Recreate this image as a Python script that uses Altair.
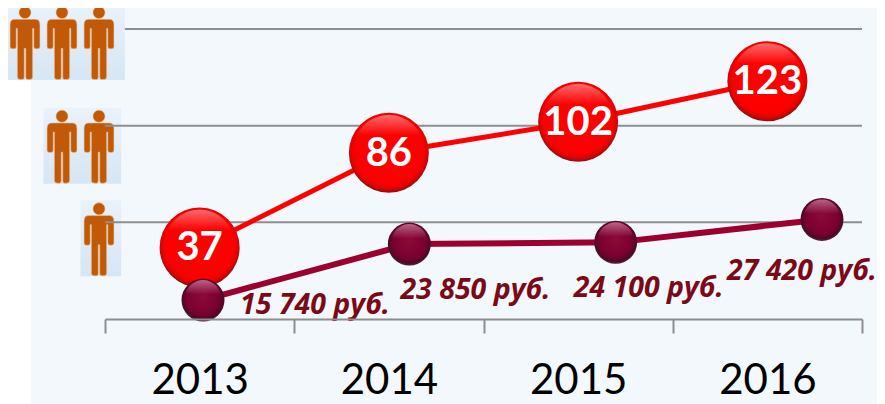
import altair as alt
import pandas as pd

years = [2013, 2014, 2015, 2016]
people = [37, 86, 102, 123]
salary = [15740, 23850, 24100, 27420]
salary_text = ["15 740 руб.", "23 850 руб.", "24 100 руб.", "27 420 руб."]
tiers = [150, 100, 50]
tier_counts = [3, 2, 1]

# layout (not data)
icon_shift = [14, 21, 17]
grid_start = [-0.7, -0.16, -0.16]
panel_end = [-0.7, -0.6, -0.6]
label_dx = [112, 66, 33, -20]
label_dy = [5, 46, 46, 52]

W, H = 757, 290
PERSON = ("M-.165,-.835A.165,.165 0 1 1 .165,-.835A.165,.165 0 1 1 -.165,-.835Z"
          "M-.28,-.65L.28,-.65Q.41,-.65 .41,-.5L.41,.1Q.41,.16 .35,.16L.30,.16Q.24,.16 .24,.1L.24,-.4L.21,-.4"
          "L.21,.93Q.21,1 .12,1L.06,1Q.02,1 .02,.93L.02,.15L-.02,.15L-.02,.93Q-.02,1 -.06,1L-.12,1"
          "Q-.21,1 -.21,.93L-.21,-.4L-.24,-.4L-.24,.1Q-.24,.16 -.3,.16L-.35,.16Q-.41,.16 -.41,.1L-.41,-.5"
          "Q-.41,-.65 -.28,-.65Z")

df = pd.DataFrame({"year": years, "people": people, "salary": salary, "text": salary_text})

band = alt.Scale(type="band", domain=years, paddingInner=0, paddingOuter=0)
xyear = alt.Scale(domain=[2013, 2016], range=[98, 717], nice=False, zero=False)
slot = alt.Scale(domain=[0, 1], range=[-6, -43], nice=False, zero=False)
ytier = alt.Scale(domain=[0, 150], nice=False)
ysal = alt.Scale(domain=[13000, 55000], nice=False, zero=False)

X0 = alt.X("year:O", scale=band, axis=None)
X1 = alt.X("year:Q", scale=xyear, axis=None)
YP = alt.Y("people:Q", scale=ytier, axis=None)
YS = alt.Y("salary:Q", scale=ysal, axis=None)

layers = []
layers.append(alt.Chart(alt.Data(values=[{"a": 1}])).mark_rect(color="#f3f8fd", opacity=1).encode(
    x=alt.value(-74), x2=alt.value(790), y=alt.value(-24), y2=alt.value(380)))

panel_fill = {"gradient": "linear", "x1": 0, "y1": 0, "x2": 0, "y2": 1,
              "stops": [{"offset": 0, "color": "#eaf2fb"}, {"offset": 1, "color": "#d6e6f4"}]}

for tier, n, shift, gs, pe in zip(tiers, tier_counts, icon_shift, grid_start, panel_end):
    row = pd.DataFrame({"tier": [tier], "left": [n - 0.5], "right": [pe]})
    layers.append(alt.Chart(row).mark_rect(fill=panel_fill, opacity=1, yOffset=shift - 39, y2Offset=shift + 37).encode(
        x=alt.X("left:Q", scale=slot, axis=None), x2="right:Q",
        y=alt.Y("tier:Q", scale=ytier, axis=None), y2="tier:Q"))
    icons = pd.DataFrame({"tier": [tier] * n, "slot": list(range(n))})
    layers.append(alt.Chart(icons).mark_point(shape=PERSON, filled=True, size=5329, fill="#c05a08", stroke="#eec39a",
                                              strokeWidth=0.6, opacity=1, yOffset=shift).encode(
        x=alt.X("slot:Q", scale=slot, axis=None),
        y=alt.Y("tier:Q", scale=ytier, axis=None)))

for tier, gs in zip(tiers, grid_start):
    row = pd.DataFrame({"tier": [tier], "start": [gs]})
    layers.append(alt.Chart(row).mark_rule(color="#8e8e8e", strokeWidth=2).encode(
        x=alt.X("start:Q", scale=slot, axis=None), x2=alt.value(W),
        y=alt.Y("tier:Q", scale=ytier, axis=None)))

# red series, carries the year axis
layers.append(alt.Chart(df).mark_line(color="#ff0000", strokeWidth=5).encode(
    x=alt.X("year:O", scale=band, axis=alt.Axis(
        title=None, labelAngle=0, tickBand="extent", domainColor="#8e8e8e", domainWidth=2, zindex=1,
        tickColor="#8e8e8e", tickWidth=2, tickSize=14, labelFont="Lato", labelFontSize=42,
        labelColor="#000000", labelPadding=27, labelBaseline="top", grid=False)),
    y=YP))

red_ball = {"gradient": "radial", "x1": 0.5, "y1": 0.46, "r1": 0, "x2": 0.5, "y2": 0.47, "r2": 0.54,
            "stops": [{"offset": 0, "color": "#ff0000"}, {"offset": 0.8, "color": "#fb0000"},
                      {"offset": 0.9, "color": "#d80404"}, {"offset": 1, "color": "#701414"}]}
red_shine = {"gradient": "linear", "x1": 0, "y1": 0, "x2": 0, "y2": 1,
             "stops": [{"offset": 0, "color": "rgba(255,255,255,0.42)"}, {"offset": 0.3, "color": "rgba(255,255,255,0)"}]}
layers.append(alt.Chart(df).mark_circle(fill=red_ball, size=6400, opacity=1).encode(x=X0, y=YP))
layers.append(alt.Chart(df).mark_circle(fill=red_shine, size=4900, opacity=1, yOffset=-3).encode(x=X0, y=YP))
layers.append(alt.Chart(df).mark_text(color="#ffffff", font="Lato", fontWeight="bold", fontSize=40, baseline="middle", dy=1).encode(
    x=X0, y=YP, text=alt.Text("people:Q")))

# salary series
purple_ball = {"gradient": "radial", "x1": 0.5, "y1": 0.42, "r1": 0, "x2": 0.5, "y2": 0.47, "r2": 0.54,
               "stops": [{"offset": 0, "color": "#8c0a38"}, {"offset": 0.7, "color": "#7a0030"},
                         {"offset": 0.9, "color": "#4b0a24"}, {"offset": 1, "color": "#55303f"}]}
purple_shine = {"gradient": "linear", "x1": 0, "y1": 0, "x2": 0, "y2": 1,
                "stops": [{"offset": 0, "color": "rgba(255,200,220,0.5)"}, {"offset": 0.4, "color": "rgba(255,200,220,0)"}]}
layers.append(alt.Chart(df).mark_line(color="#9c002e", strokeWidth=6).encode(x=X1, y=YS))
layers.append(alt.Chart(df).mark_circle(fill=purple_ball, size=1849, opacity=1).encode(x=X1, y=YS))
layers.append(alt.Chart(df).mark_circle(fill=purple_shine, size=1300, opacity=1, yOffset=-2).encode(x=X1, y=YS))
for i in range(len(years)):
    layers.append(alt.Chart(df.iloc[[i]]).mark_text(
        color="#7a0a18", font="Open Sans", fontWeight="bold", fontStyle="italic", fontSize=28.5,
        baseline="middle", dx=label_dx[i], dy=label_dy[i]).encode(x=X1, y=YS, text="text:N"))

chart = (alt.layer(*layers)
         .resolve_scale(x="independent", y="independent")
         .properties(width=W, height=H, padding={"left": 97, "top": 21, "right": 15, "bottom": 85}, autosize="none")
         .configure_view(stroke=None))

chart.save("out.html", embed_options={"renderer": "svg", "actions": False})
